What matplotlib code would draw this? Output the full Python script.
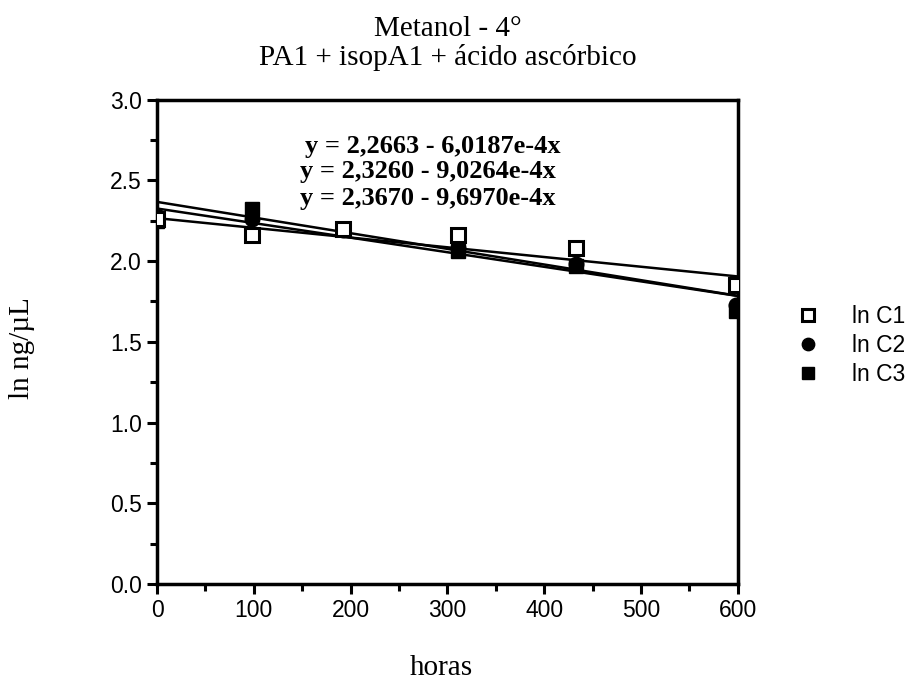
import numpy as np
import matplotlib.pyplot as plt
from matplotlib.ticker import MultipleLocator

# hours
horas = [0, 98, 192, 311, 433, 598]
ln_c1 = [2.26, 2.16, 2.20, 2.16, 2.08, 1.85]
ln_c2 = [2.28, 2.26, 2.19, 2.08, 1.98, 1.73]
ln_c3 = [2.25, 2.32, 2.20, 2.06, 1.97, 1.69]

# regression coefficients (intercept, slope)
fits = [(2.2663, -6.0187e-4), (2.3260, -9.0264e-4), (2.3670, -9.6970e-4)]
eq_labels = ["y = 2,2663 - 6,0187e-4x",
             "y = 2,3260 - 9,0264e-4x",
             "y = 2,3670 - 9,6970e-4x"]

serif = "Liberation Serif"
sans = "Liberation Sans"

fig = plt.figure(figsize=(9.13, 6.83), dpi=100)
ax = fig.add_axes([0.172, 0.145, 0.636, 0.709])

xs = np.array([0, 600])
for a, b in fits:
    ax.plot(xs, a + b * xs, color="black", lw=1.8, zorder=2)

ax.plot(horas, ln_c2, "o", color="black", ms=10.5, ls="none", zorder=3, label="ln C2")
ax.plot(horas, ln_c3, "s", color="black", ms=10, ls="none", zorder=4, label="ln C3")
ax.plot(horas, ln_c1, "s", mfc="white", mec="black", mew=2.2, ms=10, ls="none",
        zorder=5, label="ln C1")

ax.set_xlim(0, 600)
ax.set_ylim(0, 3.0)
ax.xaxis.set_major_locator(MultipleLocator(100))
ax.xaxis.set_minor_locator(MultipleLocator(50))
ax.yaxis.set_major_locator(MultipleLocator(0.5))
ax.yaxis.set_minor_locator(MultipleLocator(0.25))
ax.tick_params(which="both", direction="out", width=2.2, top=False, right=False)
ax.tick_params(which="major", length=7, labelsize=16.5, pad=4)
ax.tick_params(which="minor", length=5)
ax.yaxis.set_major_formatter(plt.FuncFormatter(lambda v, p: f"{v:.1f}"))
for lab in ax.get_xticklabels() + ax.get_yticklabels():
    lab.set_fontfamily(sans)
for sp in ax.spines.values():
    sp.set_linewidth(2.5)

for i, (txt, yb) in enumerate(zip(eq_labels, [0.890, 0.839, 0.783])):
    ax.text(0.246 + (0.008 if i == 0 else 0), yb, txt, transform=ax.transAxes,
            fontfamily=serif, fontweight="bold", fontsize=19, va="baseline")

fig.text(0.483, 0.012, "horas", ha="center", va="baseline",
         fontfamily=serif, fontsize=21)
fig.text(0.024, 0.49, "ln ng/µL", ha="center", va="center", rotation=90,
         fontfamily=serif, fontsize=21)

fig.text(0.49, 0.947, "Metanol - 4°", ha="center", va="baseline",
         fontfamily=serif, fontsize=21)
fig.text(0.49, 0.905, "PA1 + isopA1 + ácido ascórbico", ha="center",
         va="baseline", fontfamily=serif, fontsize=21)

h, l = ax.get_legend_handles_labels()
order = [2, 0, 1]
leg = fig.legend([h[i] for i in order], [l[i] for i in order],
                 loc="upper left", bbox_to_anchor=(0.85, 0.567), frameon=False,
                 prop={"family": sans, "size": 16.5}, handlelength=2.0,
                 handletextpad=0.92, labelspacing=0.27, markerscale=0.85,
                 borderaxespad=0)

fig.savefig("out.png", dpi=100)
